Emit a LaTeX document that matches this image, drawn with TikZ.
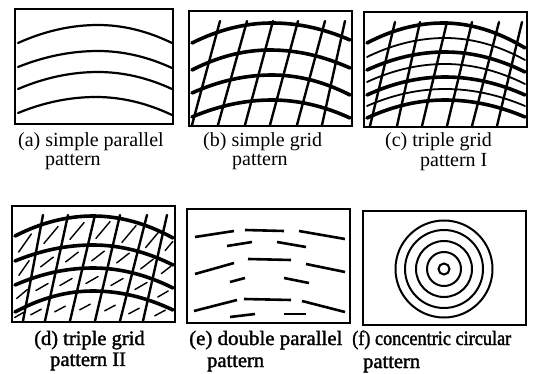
\documentclass[tikz,border=0pt]{standalone}
\usepackage{graphicx}
\usepackage{fontspec}
\setmainfont{Liberation Serif}
\newfontfamily\capbold[FakeBold=1.6]{Liberation Serif}
\newcommand\archp[6]{(#1,#2) .. controls ({#1+(#3-#1)/3},{#2+2*(#4-#2)/3}) and ({#3-(#3-#1)/3},#4) .. (#3,#4) .. controls ({#3+(#5-#3)/3},#4) and ({#5-(#5-#3)/3},{#6+2*(#4-#6)/3}) .. (#5,#6)}
\tikzset{
  frame/.style={draw, line width=1.3pt},
  parline/.style={line width=2.2pt, line cap=round},
  heavyarc/.style={line width=3.6pt, line cap=round},
  lightarc/.style={line width=1.8pt, line cap=round},
  vert/.style={line width=2.4pt, line cap=round},
  dia/.style={line width=1.4pt, line cap=round},
  dashseg/.style={line width=2.6pt},
  ring/.style={line width=2pt},
  capA/.style={font=\fontsize{20}{22}\selectfont, inner sep=0pt, anchor=base west},
  capB/.style={font=\capbold\fontsize{20.5}{22}\selectfont, inner sep=0pt, anchor=base west},
}
\begin{document}
\begin{tikzpicture}[x=1pt,y=-1pt]
\useasboundingbox (0,0) rectangle (536,374);

% ---------- (a) simple parallel ----------
\draw[frame] (15,9) rectangle (173,124);
\draw[parline] \archp{18}{43}{98}{25}{172}{43};
\draw[parline] \archp{18}{67}{98}{51}{172}{68};
\draw[parline] \archp{18}{89}{98}{72}{172}{89};
\draw[parline] \archp{18}{113}{96}{97}{172}{115};

% ---------- (b) simple grid ----------
\draw[frame] (189,11) rectangle (352,126);
\draw[heavyarc] \archp{192}{43}{272}{23}{350}{40};
\draw[heavyarc] \archp{192}{70}{270}{50}{350}{68};
\draw[heavyarc] \archp{192}{93}{272}{75}{350}{95};
\draw[heavyarc] \archp{192}{117}{272}{100}{350}{118};
\foreach \t/\b in {220/192,247/218,273/245,298/270,325/297,345/322}
  \draw[vert] (\t,21) -- (\b,125);

% ---------- (c) triple grid I ----------
\draw[frame] (364,12) rectangle (527,127);
\draw[heavyarc] \archp{367}{43}{443}{23}{525}{48};
\draw[heavyarc] \archp{367}{70}{445}{52}{525}{72};
\draw[heavyarc] \archp{367}{95}{445}{77}{525}{95};
\draw[heavyarc] \archp{367}{118}{445}{100}{525}{117};
\draw[lightarc] \archp{367}{57}{445}{38}{525}{60};
\draw[lightarc] \archp{367}{82}{445}{64}{525}{84};
\draw[lightarc] \archp{367}{106}{445}{89}{525}{106};
\foreach \t/\b in {395/370,420/397,447/422,472/447,499/472,522/497}
  \draw[vert] (\t,22) -- (\b,126);

% ---------- (d) triple grid II ----------
\draw[frame] (12,206) rectangle (175,322);
\draw[heavyarc] \archp{15}{236}{93}{216}{173}{238};
\draw[heavyarc] \archp{15}{261}{93}{245}{173}{265};
\draw[heavyarc] \archp{15}{285}{93}{268}{173}{288};
\draw[heavyarc] \archp{15}{312}{93}{291}{173}{310};
\foreach \t/\b in {43/23,68/45,95/70,120/95,147/120,167/143}
  \draw[vert] (\t,215) -- (\b,321);
\foreach \x/\y/\a/\h in {
  25/243/55/11, 51/235/50/11, 77/231/50/11, 103/230/50/11, 129/234/50/11, 152/240/50/10, 169/246/50/6,
  24/268/55/9, 47/262/38/8, 72/257/38/8, 98/256/38/8, 123/258/38/8, 147/264/38/8, 166/270/38/6,
  22/294/40/7, 42/287/30/7, 66/282/30/7, 92/280/30/7, 117/282/30/7, 141/286/30/7, 163/294/30/6,
  19/315/30/5, 36/312/28/6, 60/309/28/6, 85/307/28/6, 110/308/28/6, 134/311/28/6, 160/313/28/6}
  \draw[dia] (\x,\y) -- ++(-\a:\h) (\x,\y) -- ++(180-\a:\h);

% ---------- (e) double parallel ----------
\draw[frame] (187,209) rectangle (350,323);
\foreach \xa/\ya/\xb/\yb in {
  195/237/234/231, 245/230/284/231, 299/231/345/239,
  227/246/252/242, 277/242/306/247,
  195/274/234/263, 248/259/291/260, 306/264/345/272,
  230/282/245/278, 284/278/309/283,
  194/311/237/300, 244/299/291/300, 302/301/345/312,
  230/317/255/314, 284/314/306/314}
  \draw[dashseg] (\xa,\ya) -- (\xb,\yb);

% ---------- (f) concentric circular ----------
\draw[frame] (363,211) rectangle (526,325);
\foreach \r in {48.5,39,28,17,5.5}
  \draw[ring] (444,269) circle[radius=\r];

% ---------- captions ----------
\node[capA] (ca1) at (18,147) {(a) simple parallel};
\node[capA] (ca2) at (45,166) {pattern};
\node[capA] (cb1) at (203,147) {(b) simple grid};
\node[capA] (cb2) at (232,166) {pattern};
\node[capA] (cc1) at (385,147) {(c) triple grid};
\node[capA] (cc2) at (420,167) {pattern I};
\node[capB] (cd1) at (34,345) {(d) triple grid};
\node[capB] (cd2) at (50,366) {pattern II};
\node[capB] (ce1) at (189,345) {\scalebox{1.02}[1]{(e) double parallel}};
\node[capB] (ce2) at (207,367) {pattern};
\node[capB] (cf1) at (352,345) {\scalebox{0.89}[1]{(f) concentric circular}};
\node[capB] (cf2) at (363,368) {pattern};
\end{tikzpicture}
\end{document}
